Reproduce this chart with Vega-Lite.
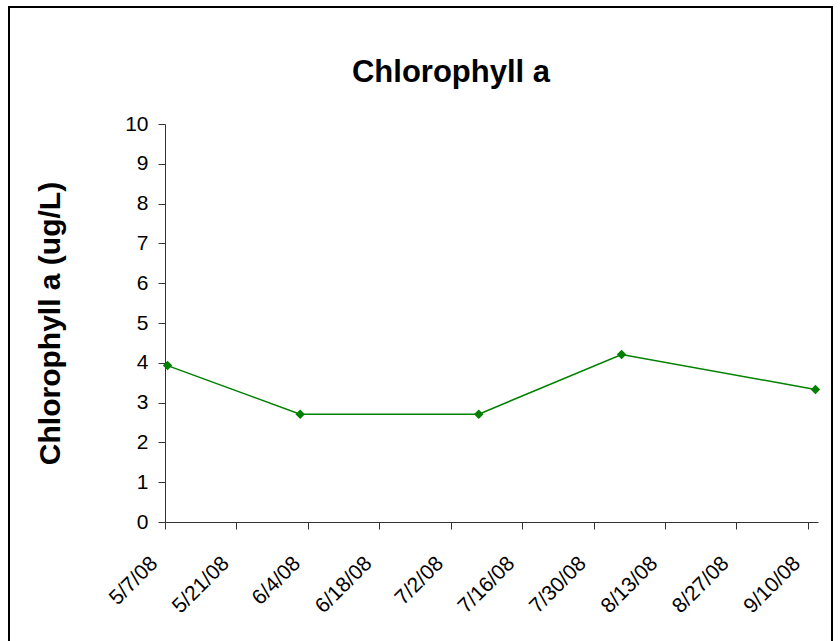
{
  "$schema": "https://vega.github.io/schema/vega-lite/v6.json",
  "autosize": {"type": "none"},
  "width": 823,
  "height": 660,
  "padding": {"left": 9, "top": 7, "right": 8, "bottom": 0},
  "background": "white",
  "config": {
    "view": {"stroke": "#000000", "strokeWidth": 2},
    "font": "Liberation Sans"
  },
  "title": {
    "text": "Chlorophyll a",
    "font": "Liberation Sans",
    "fontSize": 31,
    "fontWeight": "bold",
    "color": "#000000",
    "anchor": "middle",
    "frame": "group",
    "orient": "top",
    "baseline": "alphabetic",
    "offset": -106,
    "dx": 30.5
  },
  "data": {
    "values": [
      {"date": "2008-05-07T12:00:00", "chl": 3.93},
      {"date": "2008-06-02T12:00:00", "chl": 2.71},
      {"date": "2008-07-07T12:00:00", "chl": 2.71},
      {"date": "2008-08-04T12:00:00", "chl": 4.21},
      {"date": "2008-09-11T12:00:00", "chl": 3.33}
    ]
  },
  "mark": {
    "type": "line",
    "color": "#008000",
    "strokeWidth": 1.5,
    "point": {"shape": "diamond", "size": 90, "filled": true, "color": "#008000", "opacity": 1}
  },
  "encoding": {
    "x": {
      "field": "date",
      "type": "temporal",
      "scale": {
        "domain": [{"year": 2008, "month": 5, "date": 7}, {"year": 2008, "month": 9, "date": 12}],
        "range": [156, 809],
        "nice": false
      },
      "axis": {
        "title": null,
        "offset": -145,
        "grid": false,
        "values": [
          {"year": 2008, "month": 5, "date": 7},
          {"year": 2008, "month": 5, "date": 21},
          {"year": 2008, "month": 6, "date": 4},
          {"year": 2008, "month": 6, "date": 18},
          {"year": 2008, "month": 7, "date": 2},
          {"year": 2008, "month": 7, "date": 16},
          {"year": 2008, "month": 7, "date": 30},
          {"year": 2008, "month": 8, "date": 13},
          {"year": 2008, "month": 8, "date": 27},
          {"year": 2008, "month": 9, "date": 10}
        ],
        "format": "%-m/%-d/%y",
        "labelAngle": -45,
        "labelAlign": "right",
        "labelBaseline": "middle",
        "labelFont": "Liberation Sans",
        "labelFontSize": 21,
        "labelColor": "#000000",
        "labelPadding": 31,
        "labelOffset": -11,
        "labelOverlap": false,
        "labelFlush": false,
        "tickSize": 7,
        "tickColor": "#333333",
        "domainColor": "#333333",
        "domainWidth": 1,
        "tickWidth": 1
      }
    },
    "y": {
      "field": "chl",
      "type": "quantitative",
      "scale": {"domain": [0, 10], "range": [515, 117], "nice": false, "zero": true},
      "axis": {
        "title": "Chlorophyll a (ug/L)",
        "titleFont": "Liberation Sans",
        "titleFontSize": 30,
        "titleFontWeight": "bold",
        "titleColor": "#000000",
        "titleX": -115,
        "titleBaseline": "middle",
        "titleAlign": "center",
        "titleAngle": -90,
        "offset": -156,
        "grid": false,
        "values": [0, 1, 2, 3, 4, 5, 6, 7, 8, 9, 10],
        "labelFont": "Liberation Sans",
        "labelFontSize": 21,
        "labelColor": "#000000",
        "labelPadding": 10,
        "labelOverlap": false,
        "labelFlush": false,
        "tickSize": 7,
        "tickColor": "#333333",
        "domainColor": "#333333",
        "tickWidth": 1
      }
    }
  }
}
